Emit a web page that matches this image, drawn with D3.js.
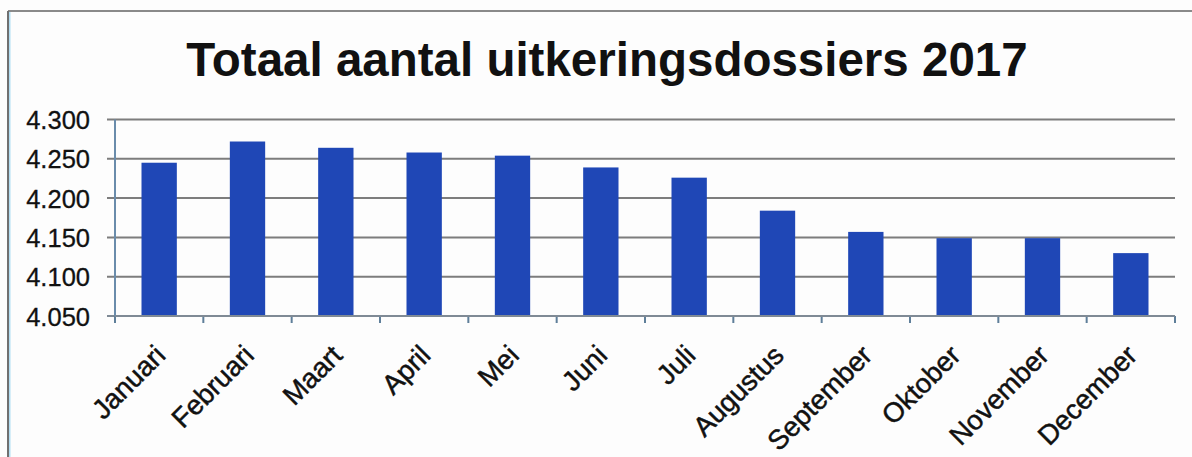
<!DOCTYPE html>
<html>
<head>
<meta charset="utf-8">
<script src="https://cdn.jsdelivr.net/npm/d3@7"></script>
<style>
  html, body { margin: 0; padding: 0; background: #ffffff; }
  svg { display: block; }
  text { font-family: "Liberation Sans", Arial, sans-serif; }
</style>
</head>
<body>
<svg id="chart" width="1192" height="457"></svg>
<script>
const title = "Totaal aantal uitkeringsdossiers 2017";
const categories = ["Januari","Februari","Maart","April","Mei","Juni","Juli","Augustus","September","Oktober","November","December"];
const values = [4245, 4272, 4264, 4258, 4254, 4239, 4226, 4184, 4157, 4149, 4149, 4130];
const yTicks = [4050, 4100, 4150, 4200, 4250, 4300];
const yDomain = [4050, 4300];

const svg = d3.select("#chart");
const W = 1192, H = 457;
const plot = { left: 115, right: 1175, top: 119.5, bottom: 316 };

// outer frame (top and left edges visible)
svg.append("rect").attr("x", 0).attr("y", 0).attr("width", W).attr("height", H).attr("fill", "#fdfdfd");
svg.append("line").attr("x1", 8).attr("x2", W).attr("y1", 11).attr("y2", 11)
  .attr("stroke", "#8a8a8a").attr("stroke-width", 2);
svg.append("line").attr("x1", 8).attr("x2", 8).attr("y1", 11).attr("y2", H)
  .attr("stroke", "#707070").attr("stroke-width", 2);
svg.append("line").attr("x1", 9.8).attr("x2", 9.8).attr("y1", 12).attr("y2", H)
  .attr("stroke", "#9fd6f0").attr("stroke-width", 1.2);

// title
svg.append("text")
  .attr("x", 607).attr("y", 76)
  .attr("text-anchor", "middle")
  .attr("font-size", 47.5).attr("font-weight", "bold")
  .attr("fill", "#111")
  .text(title);

const x = d3.scaleBand().domain(categories).range([plot.left, plot.right]).paddingInner(0.6).paddingOuter(0.3);
const xb = d3.scaleBand().domain(categories).range([plot.left, plot.right]);
const y = d3.scaleLinear().domain(yDomain).range([plot.bottom, plot.top]);

// y axis labels
const gAxis = svg.append("g").attr("transform", `translate(${plot.left - 8},0)`)
  .call(d3.axisLeft(y).tickValues(yTicks).tickSize(0).tickPadding(17)
    .tickFormat(d => d3.format(",")(d).replace(",", ".")));
gAxis.select(".domain").remove();
gAxis.selectAll("text").attr("font-size", 25.5).attr("fill", "#111").attr("dy", "0.36em")
  .attr("stroke", "#111").attr("stroke-width", 0.3)
  .style("font-family", "'Liberation Sans', Arial, sans-serif");

// gridlines
svg.append("g").selectAll("line").data(yTicks).join("line")
  .attr("x1", plot.left - 8).attr("x2", plot.right)
  .attr("y1", d => y(d)).attr("y2", d => y(d))
  .attr("stroke", d => d === yDomain[0] ? "#7f8a95" : "#7d7d7d").attr("stroke-width", 2);

// left axis line
svg.append("line").attr("x1", plot.left).attr("x2", plot.left)
  .attr("y1", plot.top).attr("y2", plot.bottom)
  .attr("stroke", "#6a8cab").attr("stroke-width", 2);

// bars
svg.append("g").selectAll("rect").data(values).join("rect")
  .attr("x", (d, i) => x(categories[i]))
  .attr("width", x.bandwidth())
  .attr("y", d => y(d))
  .attr("height", d => y(yDomain[0]) - y(d))
  .attr("fill", "#1f47b6");

// x axis ticks at band boundaries
const gx = svg.append("g").attr("transform", `translate(0,${plot.bottom})`);
const bounds = categories.map(c => xb(c)).concat([plot.right]);
gx.selectAll("line.tb").data(bounds).join("line").attr("class", "tb")
  .attr("x1", d => d).attr("x2", d => d).attr("y1", 0).attr("y2", 7)
  .attr("stroke", "#5f7f9a").attr("stroke-width", 2);
svg.append("line").attr("x1", plot.left).attr("x2", plot.right)
  .attr("y1", plot.bottom).attr("y2", plot.bottom)
  .attr("stroke", "#7f8a95").attr("stroke-width", 2);

// rotated category labels
svg.append("g").selectAll("text").data(categories).join("text")
  .attr("transform", d => `translate(${xb(d) + xb.bandwidth() / 2 + 8},357) rotate(-45)`)
  .attr("text-anchor", "end")
  .attr("font-size", 27.5)
  .attr("fill", "#111")
  .attr("stroke", "#111").attr("stroke-width", 0.5)
  .text(d => d);
</script>
</body>
</html>
